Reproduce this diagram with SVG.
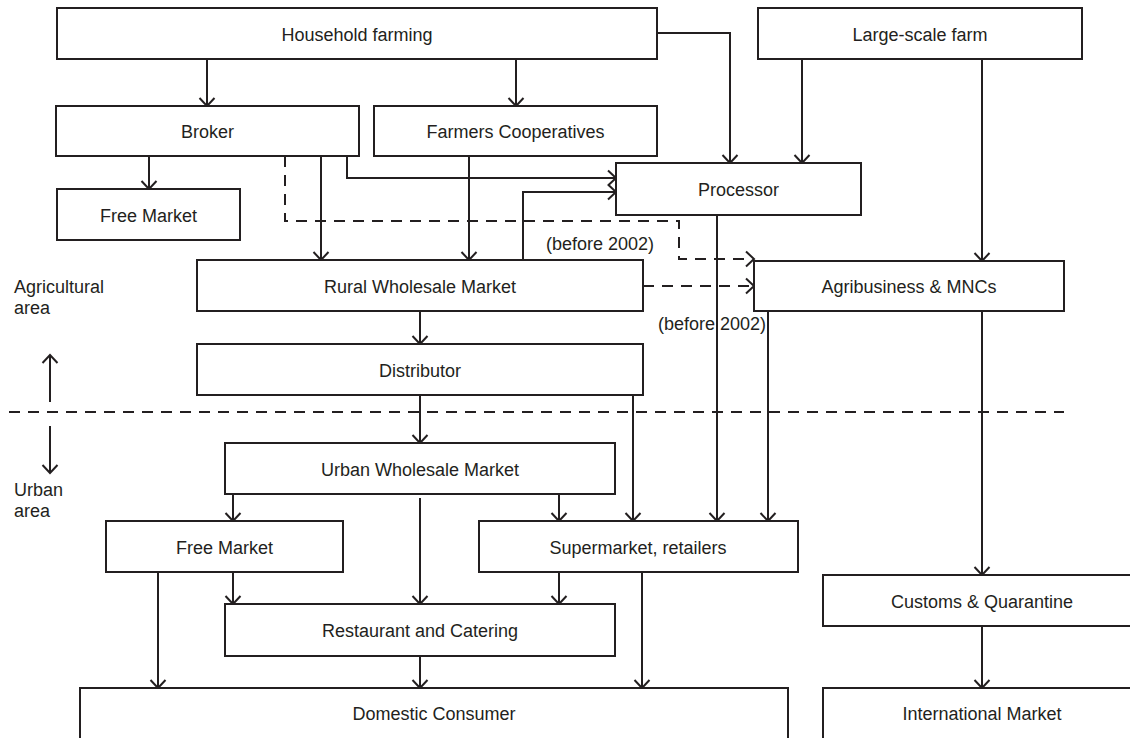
<svg xmlns="http://www.w3.org/2000/svg" width="1130" height="738" viewBox="0 0 1130 738">
  <style>
    .box { fill: #ffffff; stroke: #231f20; stroke-width: 2; }
    .lbl { font-family: "Liberation Sans", Arial, sans-serif; font-size: 18px; fill: #231f20; text-anchor: middle; }
    .side { font-family: "Liberation Sans", Arial, sans-serif; font-size: 18px; fill: #231f20; }
    .edge { fill: none; stroke: #231f20; stroke-width: 2; marker-end: url(#arrow); }
    .dash { fill: none; stroke: #231f20; stroke-width: 2; stroke-dasharray: 11 8; }
    .plain { fill: none; stroke: #231f20; stroke-width: 2; }
  </style>
  <defs>
    <marker id="arrow" markerUnits="userSpaceOnUse" viewBox="-10 -10 20 20" markerWidth="20" markerHeight="20" refX="0" refY="0" orient="auto" overflow="visible">
      <path d="M-8,-7.5 L0,0 L-8,7.5" fill="none" stroke="#231f20" stroke-width="2"/>
    </marker>
  </defs>
  <rect width="1130" height="738" fill="#ffffff"/>

  <!-- zone legend -->
  <g id="zones">
    <text class="side" x="14" y="293">Agricultural</text>
    <text class="side" x="14" y="314">area</text>
    <text class="side" x="14" y="496">Urban</text>
    <text class="side" x="14" y="517">area</text>
    <path class="dash" d="M9,412 H1064"/>
    <path class="edge" d="M50,402 V355"/>
    <path class="edge" d="M50,426 V473"/>
  </g>

  <!-- flows between actors -->
  <g id="connectors">
    <path class="edge" d="M207,59 V106"/>
    <path class="edge" d="M516,59 V106"/>
    <path class="edge" d="M657,33 H730 V163"/>
    <path class="edge" d="M802,59 V163"/>
    <path class="edge" d="M982,59 V261"/>
    <path class="edge" d="M149,156 V189"/>
    <path class="edge" d="M347,156 V178 H616"/>
    <path class="edge" d="M321,156 V260"/>
    <path class="dash" d="M285,156 V221 H679 V259 H752"/>
    <path class="plain" d="M746,251.5 L754,259 L746,266.5"/>
    <path class="edge" d="M469,156 V260"/>
    <path class="edge" d="M523,260 V192 H616"/>
    <path class="dash" d="M643,286 H752"/>
    <path class="plain" d="M746,278.5 L754,286 L746,293.5"/>
    <path class="edge" d="M717,215 V521"/>
    <path class="edge" d="M768,311 V521"/>
    <path class="edge" d="M420,311 V344"/>
    <path class="edge" d="M420,395 V443"/>
    <path class="edge" d="M633,395 V521"/>
    <path class="edge" d="M233,494 V521"/>
    <path class="edge" d="M420,498 V604"/>
    <path class="edge" d="M559,494 V521"/>
    <path class="edge" d="M233,572 V604"/>
    <path class="edge" d="M158,572 V688"/>
    <path class="edge" d="M420,656 V688"/>
    <path class="edge" d="M559,572 V604"/>
    <path class="edge" d="M642,572 V688"/>
    <path class="edge" d="M982,311 V575"/>
    <path class="edge" d="M982,626 V688"/>
    <text class="lbl" x="600" y="250">(before 2002)</text>
    <text class="lbl" x="712" y="330">(before 2002)</text>
  </g>

  <g id="household-farming">
    <rect class="box" x="57" y="8" width="600" height="51"/>
    <text class="lbl" x="357" y="41">Household farming</text>
  </g>
  <g id="large-scale-farm">
    <rect class="box" x="758" y="8" width="324" height="51"/>
    <text class="lbl" x="920" y="41">Large-scale farm</text>
  </g>
  <g id="broker">
    <rect class="box" x="56" y="106" width="303" height="50"/>
    <text class="lbl" x="207.5" y="138">Broker</text>
  </g>
  <g id="farmers-cooperatives">
    <rect class="box" x="374" y="106" width="283" height="50"/>
    <text class="lbl" x="515.5" y="138">Farmers Cooperatives</text>
  </g>
  <g id="processor">
    <rect class="box" x="616" y="163" width="245" height="52"/>
    <text class="lbl" x="738.5" y="196">Processor</text>
  </g>
  <g id="free-market-rural">
    <rect class="box" x="57" y="189" width="183" height="51"/>
    <text class="lbl" x="148.5" y="221.5">Free Market</text>
  </g>
  <g id="rural-wholesale-market">
    <rect class="box" x="197" y="260" width="446" height="51"/>
    <text class="lbl" x="420" y="292.5">Rural Wholesale Market</text>
  </g>
  <g id="agribusiness">
    <rect class="box" x="754" y="261" width="310" height="50"/>
    <text class="lbl" x="909" y="292.5">Agribusiness &amp; MNCs</text>
  </g>
  <g id="distributor">
    <rect class="box" x="197" y="344" width="446" height="51"/>
    <text class="lbl" x="420" y="376.5">Distributor</text>
  </g>
  <g id="urban-wholesale-market">
    <rect class="box" x="225" y="443" width="390" height="51"/>
    <text class="lbl" x="420" y="475.5">Urban Wholesale Market</text>
  </g>
  <g id="free-market-urban">
    <rect class="box" x="106" y="521" width="237" height="51"/>
    <text class="lbl" x="224.5" y="553.5">Free Market</text>
  </g>
  <g id="supermarket">
    <rect class="box" x="479" y="521" width="319" height="51"/>
    <text class="lbl" x="638" y="553.5">Supermarket, retailers</text>
  </g>
  <g id="restaurant">
    <rect class="box" x="225" y="604" width="390" height="52"/>
    <text class="lbl" x="420" y="636.5">Restaurant and Catering</text>
  </g>
  <g id="customs">
    <rect class="box" x="823" y="575" width="318" height="51"/>
    <text class="lbl" x="982" y="607.5">Customs &amp; Quarantine</text>
  </g>
  <g id="domestic-consumer">
    <rect class="box" x="80" y="688" width="708" height="60"/>
    <text class="lbl" x="434" y="720">Domestic Consumer</text>
  </g>
  <g id="international-market">
    <rect class="box" x="823" y="688" width="318" height="60"/>
    <text class="lbl" x="982" y="720">International Market</text>
  </g>
</svg>
